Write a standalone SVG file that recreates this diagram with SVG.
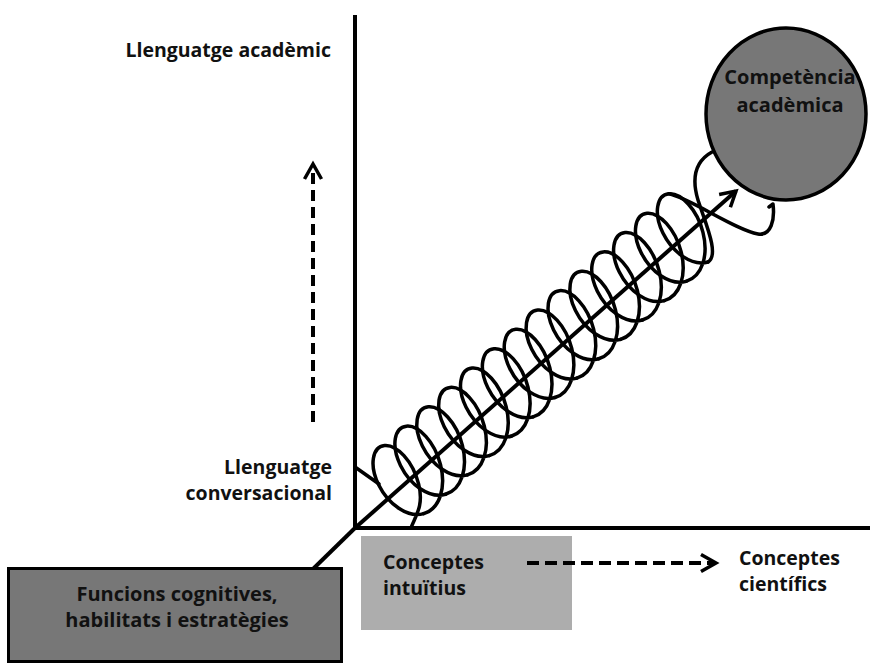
<svg xmlns="http://www.w3.org/2000/svg" width="870" height="665" viewBox="0 0 870 665">
  <defs>
    <style>
      .lbl { font-family: "Open Sans", "Liberation Sans", sans-serif; font-weight: 700; font-size: 19.5px; fill: #111; }
      .big { font-size: 20px; }
      .axis { stroke: #000; stroke-width: 4; fill: none; }
      .coil { stroke: #000; stroke-width: 3.5; fill: none; stroke-linecap: round; stroke-linejoin: round; }
      .dash { stroke: #000; stroke-width: 4; fill: none; }
    </style>
    <!-- open chevron arrowhead shared by all arrows -->
    <marker id="chev" viewBox="0 0 20 20" refX="16" refY="10" markerWidth="20" markerHeight="20" markerUnits="userSpaceOnUse" orient="auto" overflow="visible">
      <path d="M1,1.5 L16,10 L1,18.5" fill="none" stroke="#000" stroke-width="3.5" stroke-linejoin="miter"/>
    </marker>
    <!-- one turn of the coil, starting at the lower crest -->
    <path id="turn" d="M14.1,38.9 C30.03,34.35 36.79,13.05 30.95,-10.04 C25.11,-33.13 8.94,-49.75 -3.16,-48.58 C-15.26,-47.41 -18.75,-29.02 -9.08,-9.32 C0.59,10.38 20.04,24.09 35.97,19.54"/>
  </defs>

  <rect width="870" height="665" fill="#fff"/>

  <g id="node-intuitius">
    <rect x="361" y="536" width="211" height="94" fill="#adadad"/>
    <text class="lbl" x="383" y="569">Conceptes</text>
    <text class="lbl" x="383" y="595">intuïtius</text>
  </g>

  <g id="connectors">
    <!-- axes -->
    <path class="axis" d="M355,15 V528 H870"/>
    <path class="axis" d="M356,527 L313,569"/>

    <!-- dashed direction arrows -->
    <path class="dash" stroke-dasharray="11 6" d="M313,422 V164" marker-end="url(#chev)"/>
    <path class="dash" stroke-dasharray="12 6" d="M527,563 H716" marker-end="url(#chev)"/>

    <!-- coil wound around the growth axis -->
    <g id="coil" class="coil">
      <path d="M355,467 L379,484"/>
      <path d="M411,528 C414,518 424.49,507.15 418.65,484.06 C412.81,460.97 396.64,444.35 384.54,445.52 C372.44,446.69 368.95,465.08 378.62,484.78 C388.29,504.48 407.74,518.19 423.67,513.64"/>
      <use href="#turn" transform="translate(409.57,474.74)"/>
      <use href="#turn" transform="translate(431.44,455.38)"/>
      <use href="#turn" transform="translate(453.31,436.02)"/>
      <use href="#turn" transform="translate(475.18,416.66)"/>
      <use href="#turn" transform="translate(497.05,397.3)"/>
      <use href="#turn" transform="translate(518.92,377.94)"/>
      <use href="#turn" transform="translate(540.79,358.58)"/>
      <use href="#turn" transform="translate(562.66,339.22)"/>
      <use href="#turn" transform="translate(584.53,319.86)"/>
      <use href="#turn" transform="translate(606.4,300.5)"/>
      <use href="#turn" transform="translate(628.27,281.14)"/>
      <use href="#turn" transform="translate(650.14,261.78)"/>
      <use href="#turn" transform="translate(672.01,242.42)"/>
      <path d="M707.98,261.96 C720,255 705,222 698,200 C692,180 694,162 712,152"/>
      <path d="M668.85,193.84 C690,198 735,230 758,234 C771,236 775,220 773,204 L769,207"/>
    </g>

    <!-- main growth arrow -->
    <path class="axis" d="M355,528 L736,191" marker-end="url(#chev)"/>
  </g>

  <g id="node-competencia">
    <ellipse cx="786" cy="114" rx="80" ry="86" fill="#777" stroke="#000" stroke-width="3.5"/>
    <text class="lbl big" text-anchor="middle" x="790" y="84">Competència</text>
    <text class="lbl big" text-anchor="middle" x="790" y="112">acadèmica</text>
  </g>

  <g id="node-funcions">
    <rect x="8.5" y="568.5" width="333" height="93" fill="#777" stroke="#000" stroke-width="3"/>
    <text class="lbl big" text-anchor="middle" x="177" y="601">Funcions cognitives,</text>
    <text class="lbl big" text-anchor="middle" x="177" y="627">habilitats i estratègies</text>
  </g>

  <g id="label-cientifics">
    <text class="lbl" x="739" y="565">Conceptes</text>
    <text class="lbl" x="739" y="591">científics</text>
  </g>

  <g id="label-academic">
    <text class="lbl" text-anchor="end" x="331" y="57">Llenguatge acadèmic</text>
  </g>

  <g id="label-conversacional">
    <text class="lbl" text-anchor="end" x="332" y="474">Llenguatge</text>
    <text class="lbl" text-anchor="end" x="332" y="500">conversacional</text>
  </g>
</svg>
